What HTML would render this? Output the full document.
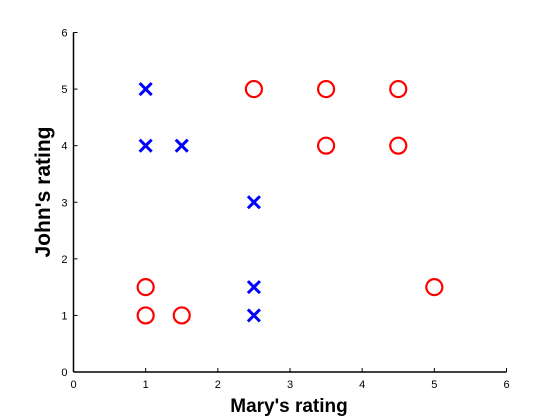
<!DOCTYPE html>
<html><head><style>
body{margin:0;background:#fff;}
svg{display:block;font-family:"Liberation Sans",sans-serif;}
</style></head><body>
<svg id="chart" width="560" height="420" viewBox="0 0 560 420">
<rect width="560" height="420" fill="#fff"/>
<g id="axes"></g>
<g id="marks"></g>
<text x="289" y="412" text-anchor="middle" font-size="19" font-weight="bold">Mary's rating</text>
<text transform="translate(50,192) rotate(-90)" text-anchor="middle" font-size="21" font-weight="bold">John's rating</text>
</svg>
<script>
const xTicks=[0,1,2,3,4,5,6];
const yTicks=[0,1,2,3,4,5,6];
const crossX=[1,1,1.5,2.5,2.5,2.5];
const crossY=[5,4,4,3,1.5,1];
const circX=[2.5,3.5,4.5,3.5,4.5,1,1,1.5,5];
const circY=[5,5,5,4,4,1.5,1,1,1.5];
const X0=73.5,X1=506.5,Y0=372,Y1=32.5;
const sx=v=>X0+(X1-X0)*v/6;
const sy=v=>Y0-(Y0-Y1)*v/6;
const NS="http://www.w3.org/2000/svg";
const axes=document.getElementById('axes'),marks=document.getElementById('marks');
function mk(tag,attrs,parent){const e=document.createElementNS(NS,tag);for(const k in attrs)e.setAttribute(k,attrs[k]);parent.appendChild(e);return e;}
let l=mk('line',{x1:X0,y1:Y0,x2:X1,y2:Y0,stroke:'#000','stroke-width':1.5},axes);


l=mk('line',{x1:X0,y1:Y0,x2:X0,y2:Y1,stroke:'#000','stroke-width':1.5},axes);


xTicks.forEach(v=>{
 const t=mk('line',{x1:sx(v),y1:Y0,x2:sx(v),y2:Y0-4,stroke:'#000'},axes);
 
 
 const tx=mk('text',{x:sx(v),y:Y0+16,'text-anchor':'middle','font-size':11},axes);
 tx.textContent=v;
 
 
});
yTicks.forEach(v=>{
 const t=mk('line',{x1:X0,y1:sy(v),x2:X0+4,y2:sy(v),stroke:'#000'},axes);
 
 
 const tx=mk('text',{x:X0-6,y:sy(v)+4,'text-anchor':'end','font-size':11},axes);
 tx.textContent=v;
 
 
});
crossX.forEach((v,i)=>{
 const cx=sx(v),cy=sy(crossY[i]),d=6;
 const p=mk('path',{d:`M${cx-d},${cy-d}L${cx+d},${cy+d}M${cx-d},${cy+d}L${cx+d},${cy-d}`,stroke:'#0000ff','stroke-width':3,fill:'none'},marks);
 
 
});
circX.forEach((v,i)=>{
 const c=mk('circle',{cx:sx(v),cy:sy(circY[i]),r:8,stroke:'#ff0000','stroke-width':2.2,fill:'none'},marks);
 
 
});
</script>
</body></html>
